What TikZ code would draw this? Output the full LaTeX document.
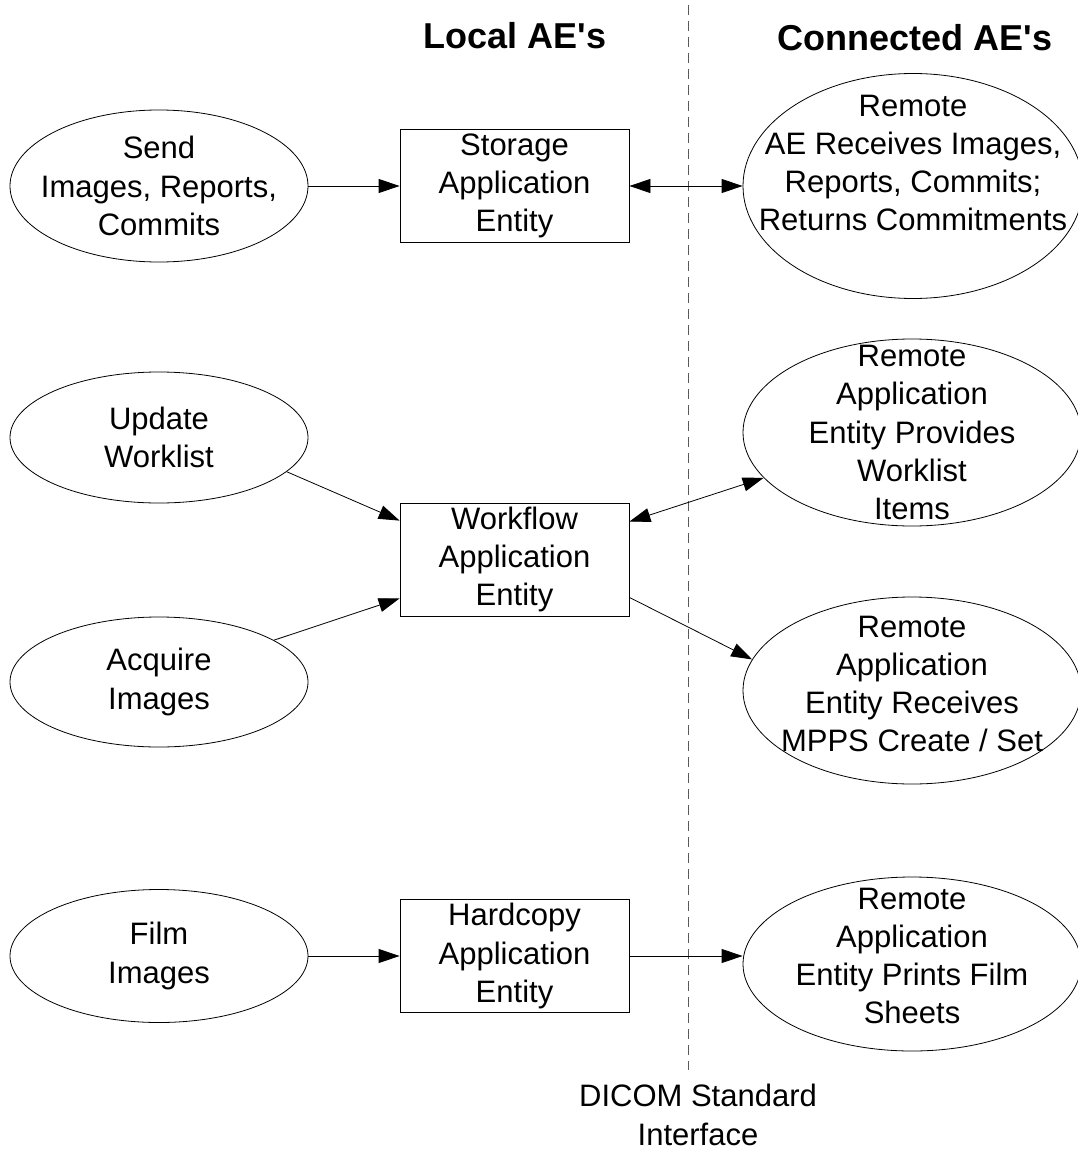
\documentclass[tikz,border=0pt]{standalone}
\usepackage{fontspec}
\setmainfont{Liberation Sans}
\usetikzlibrary{arrows.meta,shapes.geometric}

\begin{document}
\begin{tikzpicture}[x=1pt,y=-1pt,
  aebox/.style={draw,line width=0.8pt,minimum width=229pt,minimum height=113pt,inner sep=0pt,align=center,font=\fontsize{31}{38.3}\selectfont},
  aeell/.style={draw,ellipse,line width=0.8pt,inner sep=0pt},
  aetext/.style={align=center,inner sep=0pt,font=\fontsize{31}{38.3}\selectfont},
  aetitle/.style={font=\fontsize{36}{40}\selectfont\bfseries},
  arr/.style={line width=0.8pt,-{Triangle[length=21pt,width=14pt]}},
  darr/.style={line width=0.8pt,{Triangle[length=21pt,width=14pt]}-{Triangle[length=21pt,width=14pt]}}]
\useasboundingbox (0,0) rectangle (1077,1153);

% headings and the interface line
\node[aetitle] (local) at (515,36) {Local AE\textquotesingle s};
\node[aetitle] (connected) at (915,38) {Connected AE\textquotesingle s};
\coordinate (ifctop) at (688,5);
\coordinate (ifcbot) at (688,1070);
\draw[gray!70!black,line width=0.8pt,dash pattern=on 10pt off 6pt] (ifctop) -- (ifcbot);
\node[aetext] (ifc) at (698,1115) {DICOM Standard\\Interface};

% local activities
\node[aeell,minimum width=298pt,minimum height=152pt] (send) at (159,186) {};
\node[aetext] (sendt) at (send) {Send\\Images, Reports,\\Commits};
\node[aeell,minimum width=298pt,minimum height=131pt] (upd) at (159,437.5) {};
\node[aetext] (updt) at (upd) {Update\\Worklist};
\node[aeell,minimum width=298pt,minimum height=130pt] (acq) at (159,682) {};
\node[aetext] (acqt) at (acq) {Acquire\\Images};
\node[aeell,minimum width=298pt,minimum height=133pt] (film) at (159,956) {};
\node[aetext] (filmt) at (film) {Film\\Images};

% application entities
\node[aebox] (store) at (514.5,186) {Storage\\Application\\Entity};
\node[aebox] (wf) at (514.5,559.5) {Workflow\\Application\\Entity};
\node[aebox] (hard) at (514.5,956) {Hardcopy\\Application\\Entity};

% remote entities
\node[aeell,minimum width=340pt,minimum height=225pt] (remstore) at (913,186) {};
\node[aetext] (remstoret) at (913,163) {Remote\\AE Receives Images,\\Reports, Commits;\\Returns Commitments};
\node[aeell,minimum width=338pt,minimum height=187pt] (remwl) at (912,432.5) {};
\node[aetext] (remwlt) at (remwl) {Remote\\Application\\Entity Provides\\Worklist\\Items};
\node[aeell,minimum width=338pt,minimum height=187pt] (remmpps) at (912,690.5) {};
\node[aetext] (remmppst) at (912,684) {Remote\\Application\\Entity Receives\\MPPS Create / Set};
\node[aeell,minimum width=338pt,minimum height=174pt] (remfilm) at (912,964) {};
\node[aetext] (remfilmt) at (912,956) {Remote\\Application\\Entity Prints Film\\Sheets};

% connections
\draw[arr] (send) -- (store);
\draw[darr] (store) -- (remstore);
\draw[arr] (upd.-15) -- ([yshift=-18pt]wf.north west);
\draw[arr] (acq.20) -- ([yshift=18pt]wf.south west);
\draw[darr] ([yshift=-19pt]wf.north east) -- (remwl.197);
\draw[arr] ([yshift=19pt]wf.south east) -- (remmpps.169);
\draw[arr] (film) -- (hard);
\draw[arr] (hard) -- (hard -| remfilm.west);
\end{tikzpicture}
\end{document}
